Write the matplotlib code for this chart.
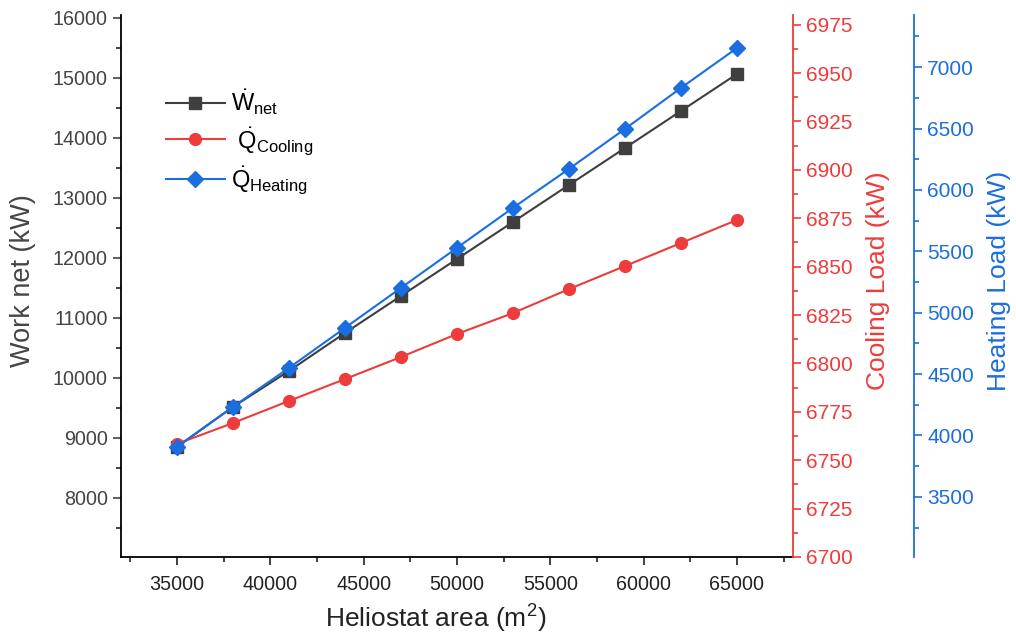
import matplotlib
matplotlib.use("Agg")
import matplotlib.pyplot as plt
from matplotlib.ticker import MultipleLocator

plt.rcParams['font.family'] = ['Liberation Sans', 'DejaVu Sans']
plt.rcParams['mathtext.fontset'] = 'custom'
plt.rcParams['mathtext.rm'] = 'Liberation Sans'
plt.rcParams['mathtext.it'] = 'Liberation Sans'

area = [35000, 38000, 41000, 44000, 47000, 50000, 53000, 56000, 59000, 62000, 65000]
w_net = [8850, 9517, 10117, 10750, 11367, 11983, 12600, 13217, 13833, 14450, 15067]
q_cooling = [6758.4, 6769.2, 6780.6, 6791.9, 6803.3, 6815.2, 6826.0, 6838.4, 6850.3, 6862.2, 6874.1]
q_heating = [3907, 4233, 4550, 4876, 5202, 5528, 5854, 6171, 6497, 6831, 7156]

c_w = '#3f3f3f'
c_c = '#ee3b3b'
c_h = '#1a6ee0'
c_txt = '#222222'

fig = plt.figure(figsize=(10.16, 6.38), dpi=100)
ax = fig.add_axes([0.119, 0.127, 0.6615, 0.8495])
ax2 = ax.twinx()
ax3 = ax.twinx()
ax3.spines['right'].set_position(('axes', 1.180))

l1, = ax.plot(area, w_net, color=c_w, marker='s', markersize=8, lw=1.5,
              label=r'$\mathrm{\dot{W}_{net}}$')
l2, = ax2.plot(area, q_cooling, color=c_c, marker='o', markersize=8.5, lw=1.5,
               label=r'$\mathrm{\ \dot{Q}_{Cooling}}$')
l3, = ax3.plot(area, q_heating, color=c_h, marker='D', markersize=8.5, lw=1.5,
               label=r'$\mathrm{\dot{Q}_{Heating}}$')

ax.set_xlim(32000, 68000)
ax.set_ylim(7017, 16050)
ax2.set_ylim(6700, 6980)
ax3.set_ylim(3010, 7425)

for a in (ax, ax2, ax3):
    a.spines['top'].set_visible(False)
ax.spines['right'].set_visible(False)
for a in (ax2, ax3):
    a.spines['left'].set_visible(False)
    a.spines['bottom'].set_visible(False)
ax2.spines['right'].set_color(c_c)
ax3.spines['right'].set_color(c_h)
for a in (ax, ax2, ax3):
    for s in a.spines.values():
        s.set_linewidth(1.3)

ax.xaxis.set_major_locator(MultipleLocator(5000))
ax.xaxis.set_minor_locator(MultipleLocator(2500))
ax.yaxis.set_major_locator(MultipleLocator(1000))
ax.yaxis.set_minor_locator(MultipleLocator(500))
ax2.yaxis.set_major_locator(MultipleLocator(25))
ax2.yaxis.set_minor_locator(MultipleLocator(12.5))
ax3.yaxis.set_major_locator(MultipleLocator(500))
ax3.yaxis.set_minor_locator(MultipleLocator(250))

ax.tick_params(axis='both', which='major', direction='out', length=6, width=1.2,
               labelsize=14.2, colors=c_txt)
ax.tick_params(axis='x', which='major', pad=7)
ax.tick_params(axis='both', which='minor', direction='out', length=3.5, width=1.2, colors=c_txt)
ax.tick_params(axis='y', which='major', colors='#444444')
ax2.tick_params(axis='y', which='major', direction='out', length=6, width=1.2,
                labelsize=15, colors=c_c)
ax2.tick_params(axis='y', which='minor', direction='out', length=3.5, width=1.2, colors=c_c)
ax3.tick_params(axis='y', which='major', direction='out', length=6, width=1.2,
                labelsize=15, colors=c_h)
ax3.tick_params(axis='y', which='minor', direction='out', length=3.5, width=1.2, colors=c_h)

ax.set_xlabel(r'Heliostat area (m$^2$)', fontsize=19, color=c_txt)
ax.set_ylabel('Work net (kW)', fontsize=19.5, color='#444444')
ax2.set_ylabel('Cooling Load (kW)', fontsize=19, color=c_c)
ax3.set_ylabel('Heating Load (kW)', fontsize=19, color=c_h)
ax.xaxis.set_label_coords(0.469, -0.085)
ax.yaxis.set_label_coords(-0.127, 0.51)
ax2.yaxis.set_label_coords(1.108, 0.51)
ax3.yaxis.set_label_coords(1.288, 0.51)

ax.legend(handles=[l1, l2, l3], loc='upper left', bbox_to_anchor=(0.035, 0.905),
          frameon=False, fontsize=17, handlelength=2.5, labelspacing=0.32,
          handletextpad=0.25)

fig.savefig('out.png', dpi=100)
